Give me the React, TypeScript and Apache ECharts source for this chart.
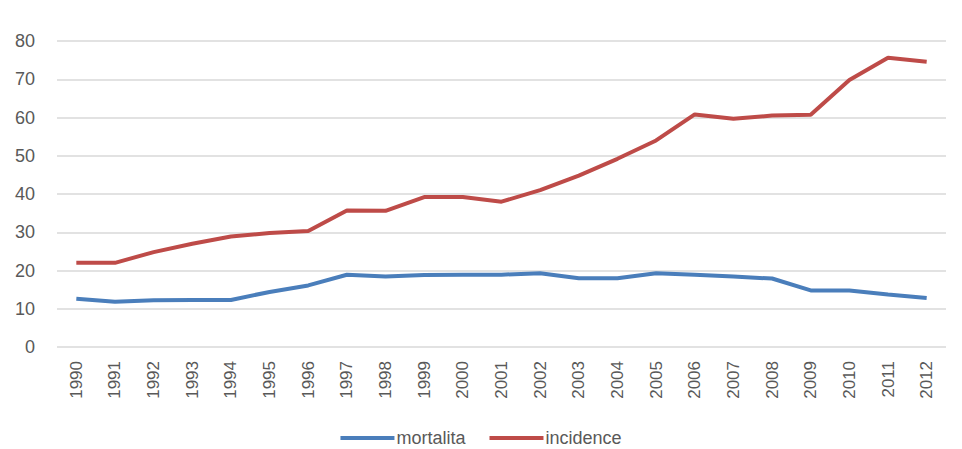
import React, { useEffect, useRef } from "react";
import * as echarts from "echarts";

const years = ["1990","1991","1992","1993","1994","1995","1996","1997","1998","1999","2000","2001","2002","2003","2004","2005","2006","2007","2008","2009","2010","2011","2012"];
const mortalita = [12.6,11.8,12.2,12.3,12.3,14.4,16.1,18.9,18.4,18.8,18.9,18.9,19.3,18.0,18.0,19.3,18.9,18.4,17.9,14.8,14.8,13.7,12.8];
const incidence = [22,22,24.8,27,28.9,29.8,30.3,35.7,35.6,39.2,39.2,38,41,44.8,49.2,54,60.8,59.7,60.5,60.7,69.8,75.6,74.6];
const yTicks = [0, 80, 10];

export default function App() {
  const ref = useRef<HTMLDivElement>(null);
  useEffect(() => {
    const chart = echarts.init(ref.current!, null, { renderer: "svg" });
    const font = "'Liberation Sans', Arial, sans-serif";
    chart.setOption({
      animation: false,
      backgroundColor: "#ffffff",
      grid: { left: 57, right: 16, top: 41, bottom: 102 },
      legend: {
        left: "center",
        top: 428,
        padding: 0,
        icon: "rect",
        itemWidth: 54,
        itemHeight: 4,
        itemGap: 24,
        textStyle: { fontFamily: font, fontSize: 18, lineHeight: 20, color: "#595959", padding: [0, 0, 0, -3] },
        data: ["mortalita", "incidence"],
      },
      xAxis: {
        type: "category",
        data: years,
        boundaryGap: true,
        axisLine: { show: false },
        axisTick: { show: false },
        axisLabel: { rotate: 90, fontFamily: font, fontSize: 17, color: "#595959", margin: 14 },
      },
      yAxis: {
        type: "value",
        min: yTicks[0],
        max: yTicks[1],
        interval: yTicks[2],
        axisLine: { show: false },
        axisTick: { show: false },
        splitLine: { lineStyle: { color: "#d9d9d9", width: 1.5 } },
        axisLabel: { fontFamily: font, fontSize: 18, color: "#595959", margin: 22 },
      },
      series: [
        {
          name: "mortalita",
          type: "line",
          data: mortalita,
          showSymbol: false,
          symbol: "none",
          lineStyle: { color: "#4a7ebb", width: 4 },
          itemStyle: { color: "#4a7ebb" },
        },
        {
          name: "incidence",
          type: "line",
          data: incidence,
          showSymbol: false,
          symbol: "none",
          lineStyle: { color: "#be4b48", width: 4 },
          itemStyle: { color: "#be4b48" },
        },
      ],
    });
    return () => chart.dispose();
  }, []);
  return <div ref={ref} style={{ width: 962, height: 449, position: "absolute", left: 0, top: 0 }} />;
}
